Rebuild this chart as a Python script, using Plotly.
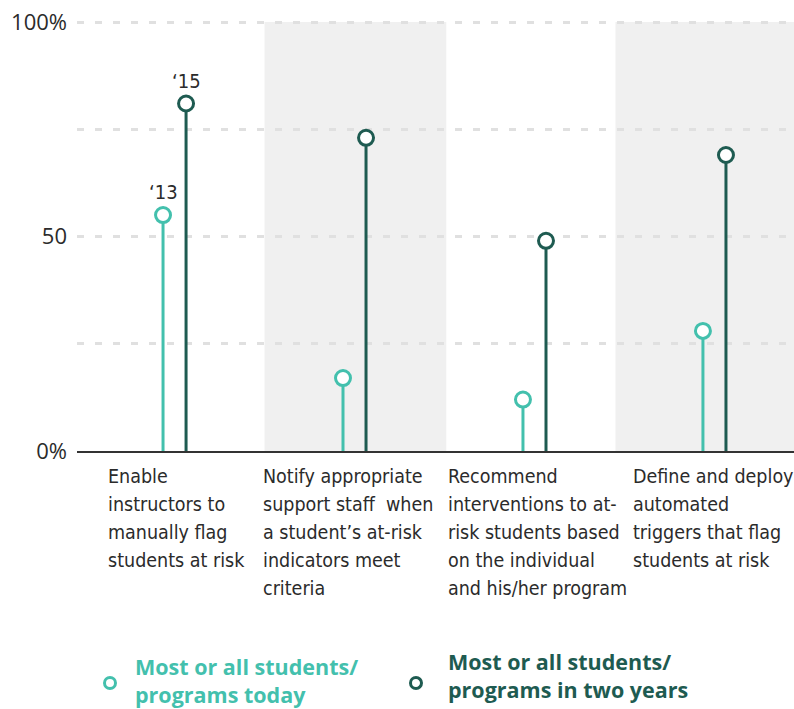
import plotly.graph_objects as go

# Share of institutions doing each early-alert activity, in percent
categories = [
    "Enable<br>instructors to<br>manually flag<br>students at risk",
    "Notify appropriate<br>support staff  when<br>a student’s at-risk<br>indicators meet<br>criteria",
    "Recommend<br>interventions to at-<br>risk students based<br>on the individual<br>and his/her program",
    "Define and deploy<br>automated<br>triggers that flag<br>students at risk",
]
today = [55, 17, 12, 28]
two_years = [81, 73, 49, 69]
year_labels = ["‘13", "‘15"]
series_names = ["Most or all students/<br>programs today",
                "Most or all students/<br>programs in two years"]
y_ticks = [0, 25, 50, 75, 100]
y_tick_text = ["0%", "", "50", "", "100%"]

TEAL = "#43c0ad"
DARK = "#1e5b51"
TEXT = "#2b2b2b"
BAND = "#f0f0f0"
NARROW = "DejaVu Sans Condensed"

W_PX, H_PX = 794, 709
L, T, R, B = 77, 19, 0, 258
PW, PH = W_PX - L - R, H_PX - T - B
Y_MAX = 100.7


def px_x(px):
    return (px - L) / PW


def px_y(py):
    return (H_PX - B - py) / PH


OFF = 0.064  # half gap between the paired stems, in category units
idx = list(range(len(categories)))

fig = go.Figure()

for vals, color, sign in [(today, TEAL, -1), (two_years, DARK, 1)]:
    fig.add_trace(go.Scatter(
        x=[i + sign * OFF for i in idx],
        y=vals,
        mode="markers",
        marker=dict(symbol="circle", size=15, color="white",
                    line=dict(color=color, width=3)),
        error_y=dict(type="data", symmetric=False,
                     array=[0] * len(vals), arrayminus=vals,
                     color=color, thickness=3, width=0),
        cliponaxis=False,
        showlegend=False,
        hoverinfo="skip",
    ))

# shaded bands behind the second and fourth categories
band_spans = [(0.5, 1.51), (2.45, 3.6)]
shapes = []
for x0, x1 in band_spans:
    shapes.append(dict(type="rect", xref="x", yref="y",
                       x0=x0, x1=x1, y0=0, y1=100,
                       fillcolor=BAND, line=dict(width=0), layer="below"))

annotations = []
# year markers above the first pair
for vals, sign, lab in [(today, -1, year_labels[0]), (two_years, 1, year_labels[1])]:
    annotations.append(dict(x=0 + sign * OFF, y=vals[0], xref="x", yref="y",
                            text=lab, showarrow=False, yanchor="bottom",
                            yshift=9,
                            font=dict(family=NARROW, size=20, color=TEXT)))

# category labels under the axis, one annotation per line for a 28px leading
label_shift = [21, -4, 1, 7]
LEADING = 28
for i, cat in enumerate(categories):
    for k, line in enumerate(cat.split("<br>")):
        annotations.append(dict(x=i - 0.5, y=px_y(463), xref="x", yref="paper",
                                xanchor="left", yanchor="top", align="left",
                                xshift=label_shift[i], yshift=-k * LEADING,
                                text=line, showarrow=False,
                                font=dict(family=NARROW, size=19.5, color=TEXT)))

# legend
legend_items = [(series_names[0], TEAL, 110, 133, 680),
                (series_names[1], DARK, 416, 446, 675)]
for name, color, cx, tx, cy in legend_items:
    shapes.append(dict(type="circle", xref="paper", yref="paper",
                       xsizemode="pixel", ysizemode="pixel",
                       xanchor=px_x(cx), yanchor=px_y(683),
                       x0=-5.5, x1=5.5, y0=-5.5, y1=5.5,
                       line=dict(color=color, width=3), fillcolor="white"))
    annotations.append(dict(x=px_x(tx), y=px_y(cy), xref="paper", yref="paper",
                            xanchor="left", yanchor="middle", align="left",
                            text="<b>" + name + "</b>", showarrow=False,
                            font=dict(family="Open Sans", size=21.5, color=color)))

fig.update_layout(
    width=W_PX, height=H_PX,
    margin=dict(l=L, r=R, t=T, b=B, pad=0),
    plot_bgcolor="white", paper_bgcolor="white",
    shapes=shapes, annotations=annotations,
    xaxis=dict(range=[-0.542, 3.442], showticklabels=False, showgrid=False,
               zeroline=False, showline=True, linecolor="#333333", linewidth=2,
               fixedrange=True),
    yaxis=dict(range=[0, Y_MAX], tickvals=y_ticks, ticktext=y_tick_text,
               showgrid=True, gridcolor="#e0e0e0", gridwidth=3,
               griddash="7px,11px", zeroline=False, showline=False,
               ticks="", ticklabelstandoff=9,
               tickfont=dict(family="Open Sans", size=22, color=TEXT),
               fixedrange=True),
)

fig.write_html("out.html")
